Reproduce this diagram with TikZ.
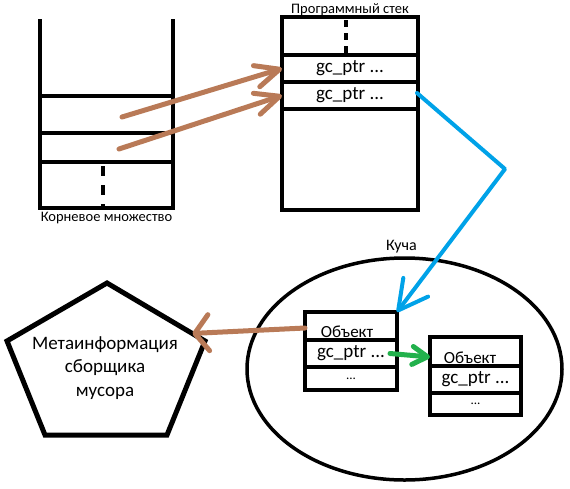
\documentclass[tikz,border=0pt]{standalone}
\usepackage{fontspec}
\setmainfont{Carlito}
\usepackage{tikz}
\usetikzlibrary{arrows.meta,positioning,calc,shapes.geometric}
\definecolor{paintbrown}{RGB}{185,122,87}
\definecolor{paintblue}{RGB}{0,162,232}
\definecolor{paintgreen}{RGB}{34,177,76}
\tikzset{
  stackline/.style={line width=4.5pt},
  cellbox/.style={rectangle,draw,line width=4.5pt,inner sep=0pt,outer sep=0pt,font=\fontsize{19}{22}\selectfont},
  dotline/.style={line width=4.5pt},
  captiontext/.style={inner sep=0pt,font=\fontsize{14.5}{17}\selectfont},
  heaptext/.style={inner sep=0pt,font=\fontsize{16}{19}\selectfont},
  objtext/.style={inner sep=0pt,font=\fontsize{17}{20}\selectfont},
  brownarr/.style={-{Straight Barb[length=24pt,width=22pt,round]},line width=5pt,line cap=round,color=paintbrown},
  bluearr/.style={-{Straight Barb[length=29pt,width=31pt,round]},line width=4pt,line cap=round,line join=round,color=paintblue},
  greenarr/.style={-{Straight Barb[length=15pt,width=18pt,round]},line width=5pt,line cap=round,color=paintgreen},
  heapnode/.style={ellipse,draw,line width=3.5pt,minimum width=315pt,minimum height=222pt},
  metanode/.style={align=center,inner sep=0pt,font=\fontsize{19}{23.5}\selectfont}
}

\begin{document}
\begin{tikzpicture}[x=1pt,y=-1pt]
  \useasboundingbox (0,0) rectangle (570,488);

  %% Root set
  \node[cellbox,minimum width=133pt,minimum height=37pt] (rootA) at (106.5,114.5) {};
  \node[cellbox,minimum width=133pt,minimum height=29pt] (rootB) at (106.5,147.5) {};
  \node[cellbox,minimum width=133pt,minimum height=46pt] (rootC) at (106.5,185) {};
  \draw[stackline] (rootA.north west) -- ++(0,-77);
  \draw[stackline] (rootA.north east) -- ++(0,-77);
  \draw[dotline,dash pattern=on 9.5pt off 9.5pt,dash phase=15pt]
      ([xshift=-3.5pt]rootC.north) -- ([xshift=-3.5pt]rootC.south);
  \node[captiontext,below=4pt of rootC] (rootLabel) {Корневое множество};

  %% Program stack
  \node[cellbox,minimum width=136pt,minimum height=38pt] (stackTop) at (350,36) {};
  \node[cellbox,minimum width=136pt,minimum height=27pt] (ptrA) at (350,68.5) {gc\_ptr ...};
  \node[cellbox,minimum width=136pt,minimum height=27pt] (ptrB) at (350,95.5) {gc\_ptr ...};
  \node[cellbox,minimum width=136pt,minimum height=101pt] (stackLow) at (350,159.5) {};
  \draw[dotline,dash pattern=on 7pt off 6pt,dash phase=10pt]
      ([xshift=-4pt]stackTop.north) -- ([xshift=-4pt]stackTop.south);
  \node[captiontext,above=1pt of stackTop] (stackLabel) {Программный стек};

  %% Heap
  \node[heapnode] (heap) at (404.5,369) {};
  \node[heaptext,above=3pt of heap,xshift=-3pt] (heapLabel) {Куча};

  %% Objects
  \node[cellbox,minimum width=92pt,minimum height=28pt] (objA1) at (351,326) {};
  \node[cellbox,minimum width=92pt,minimum height=27pt] (objA2) at (351,353.5) {gc\_ptr ...};
  \node[cellbox,minimum width=92pt,minimum height=23pt,font=\fontsize{13}{15}\selectfont] (objA3) at (351,378.5) {...};
  \node[objtext] (objAname) at ([shift={(-4,6)}]objA1.center) {Объект};
  \node[cellbox,minimum width=91pt,minimum height=29pt] (objB1) at (475.5,351.5) {};
  \node[cellbox,minimum width=91pt,minimum height=27pt] (objB2) at (475.5,379.5) {gc\_ptr ...};
  \node[cellbox,minimum width=91pt,minimum height=22pt,font=\fontsize{13}{15}\selectfont] (objB3) at (475.5,404) {...};
  \node[objtext] (objBname) at ([shift={(-5.5,6.5)}]objB1.center) {Объект};

  %% Collector metadata
  \coordinate (pTop) at (107,283);
  \coordinate (pRight) at (205,341);
  \coordinate (pLowR) at (167,435);
  \coordinate (pLowL) at (45,435);
  \coordinate (pLeft) at (7,341);
  \draw[line width=5pt,line join=miter] (pTop) -- (pRight) -- (pLowR) -- (pLowL) -- (pLeft) -- cycle;
  \node[metanode] (meta) at (105,368) {Метаинформация\\сборщика\\мусора};
  \coordinate (metaEdge) at ($(pTop)!0.87!(pRight)$);

  %% Arrows
  \draw[brownarr] ([shift={(15.5,2.5)}]rootA.center) -- (ptrA.west);
  \draw[brownarr] ([shift={(12.5,1.5)}]rootB.center) -- (ptrB.west);
  \coordinate (bend) at (505,169);
  \draw[bluearr] ([shift={(-1,-2.5)}]ptrB.east) -- (bend) -- (objA1.north east);
  \draw[brownarr,-{Straight Barb[length=14pt,width=36pt,round]}] ([yshift=-2pt]objA1.west) -- (metaEdge);
  \draw[greenarr] ([xshift=-7pt]objA2.east) -- ([yshift=-5.5pt]objB1.west);
\end{tikzpicture}
\end{document}
